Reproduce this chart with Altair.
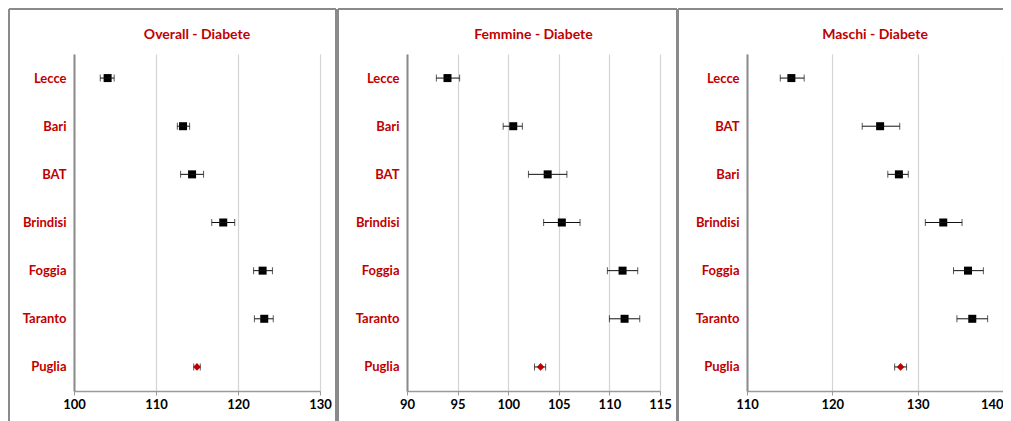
import altair as alt
import pandas as pd

# ---------------- data ----------------
titles = ["Overall - Diabete", "Femmine - Diabete", "Maschi - Diabete"]

cats_overall = ["Lecce", "Bari", "BAT", "Brindisi", "Foggia", "Taranto", "Puglia"]
val_overall = [104.1, 113.3, 114.4, 118.2, 123.0, 123.2, 115.0]
lo_overall = [103.2, 112.6, 113.0, 116.8, 121.9, 122.0, 114.6]
hi_overall = [104.9, 114.1, 115.8, 119.6, 124.2, 124.3, 115.4]

cats_femmine = ["Lecce", "Bari", "BAT", "Brindisi", "Foggia", "Taranto", "Puglia"]
val_femmine = [94.0, 100.5, 103.9, 105.3, 111.3, 111.5, 103.2]
lo_femmine = [92.9, 99.5, 102.0, 103.5, 109.8, 110.0, 102.6]
hi_femmine = [95.2, 101.4, 105.8, 107.1, 112.8, 113.0, 103.7]

cats_maschi = ["Lecce", "BAT", "Bari", "Brindisi", "Foggia", "Taranto", "Puglia"]
val_maschi = [115.2, 125.6, 127.8, 133.0, 135.9, 136.4, 128.0]
lo_maschi = [113.9, 123.5, 126.5, 130.9, 134.2, 134.6, 127.3]
hi_maschi = [116.7, 127.9, 128.9, 135.2, 137.7, 138.2, 128.7]

domain_overall = [100, 130]
ticks_overall = [100, 110, 120, 130]
domain_femmine = [90, 115]
ticks_femmine = [90, 95, 100, 105, 110, 115]
domain_maschi = [110, 140]
ticks_maschi = [110, 120, 130, 140]

total_label = "Puglia"

# ---------------- style ----------------
RED = "#C00000"
FONT = "Lato"
PLOT_H = 337
FRAME_TOP = -45
FRAME_BOTTOM = 420


def panel(title, cats, vals, lo, hi, domain, ticks, width, frame_l, frame_r,
          edge_label=None):
    df = pd.DataFrame({
        "cat": cats, "val": vals, "lo": lo, "hi": hi,
        "tot": ["tot" if c == total_label else "reg" for c in cats],
    })
    base = alt.Chart(df)
    y = alt.Y(
        "cat:N", sort=cats, title=None,
        scale=alt.Scale(type="point", padding=0.5),
        axis=alt.Axis(
            ticks=False, grid=False, domainColor="#8a8a8a", domainWidth=2,
            labelColor=RED, labelFont=FONT, labelFontWeight="bold",
            labelFontSize=13, labelPadding=8,
        ),
    )
    axis_kw = dict(
        values=ticks, grid=True, gridColor="#d4d4d4", gridWidth=1.2,
        domainColor="#9a9a9a", domainWidth=1.5, tickColor="#9a9a9a",
        tickSize=4, labelColor="black", labelFont=FONT,
        labelFontWeight="bold", labelFontSize=13, labelPadding=3,
        labelFlush=False,
    )
    if edge_label is not None:
        axis_kw["labelAlign"] = {
            "condition": {"test": f"datum.value >= {edge_label}", "value": "right"},
            "value": "center",
        }
    x = alt.X(
        "val:Q", title=None,
        scale=alt.Scale(domain=domain, nice=False, zero=False),
        axis=alt.Axis(**axis_kw),
    )
    cap_lo = base.mark_tick(color="#111111", thickness=1, size=7).encode(
        x=alt.X("lo:Q"), y=alt.Y("cat:N", sort=cats))
    cap_hi = base.mark_tick(color="#111111", thickness=1, size=7).encode(
        x=alt.X("hi:Q"), y=alt.Y("cat:N", sort=cats))
    rule = base.mark_rule(color="#111111", strokeWidth=1).encode(
        x=alt.X("lo:Q"), x2="hi:Q", y=alt.Y("cat:N", sort=cats))
    pts = base.transform_filter(alt.datum.tot == "reg").mark_point(
        shape="square", filled=True, size=64, color="black", opacity=1
    ).encode(x=x, y=y)
    tot = base.transform_filter(alt.datum.tot == "tot").mark_point(
        shape="diamond", filled=True, size=58, color=RED, opacity=1
    ).encode(x=alt.X("val:Q"), y=alt.Y("cat:N", sort=cats))

    one = alt.Chart(pd.DataFrame({"t": [title]}))
    fr = dict(stroke="#8a8a8a", strokeWidth=2, clip=False)
    top_line = one.mark_rule(**fr).encode(
        x=alt.value(frame_l), x2=alt.value(frame_r), y=alt.value(FRAME_TOP))
    left_line = one.mark_rule(**fr).encode(
        x=alt.value(frame_l), y=alt.value(FRAME_TOP), y2=alt.value(FRAME_BOTTOM))
    right_line = one.mark_rule(**fr).encode(
        x=alt.value(frame_r), y=alt.value(FRAME_TOP), y2=alt.value(FRAME_BOTTOM))
    ttl = one.mark_text(
        font=FONT, fontSize=14, fontWeight="bold", color=RED,
        align="center", baseline="middle",
    ).encode(text="t:N", x=alt.value(width / 2), y=alt.value(-19))

    return alt.layer(top_line, left_line, right_line, pts, rule, cap_lo,
                     cap_hi, tot, ttl).properties(width=width, height=PLOT_H)


p1 = panel(titles[0], cats_overall, val_overall, lo_overall, hi_overall,
           domain_overall, ticks_overall, 246, -65, 262)
p2 = panel(titles[1], cats_femmine, val_femmine, lo_femmine, hi_femmine,
           domain_femmine, ticks_femmine, 253, -69, 270)
p3 = panel(titles[2], cats_maschi, val_maschi, lo_maschi, hi_maschi,
           domain_maschi, ticks_maschi, 256, -69, 290,
           edge_label=ticks_maschi[-1])

# fixed canvas: 995 x 401 px, plot 1 origin at (66, 46)
chart = alt.hconcat(p1, p2, p3, spacing=87, bounds="flush").properties(
    autosize=alt.AutoSizeParams(type="none"),
    padding={"left": 66, "top": 46, "right": 929, "bottom": 355},
    background="white",
).configure_view(stroke=None)

chart.save("out.html", embed_options={"renderer": "svg", "actions": False})
